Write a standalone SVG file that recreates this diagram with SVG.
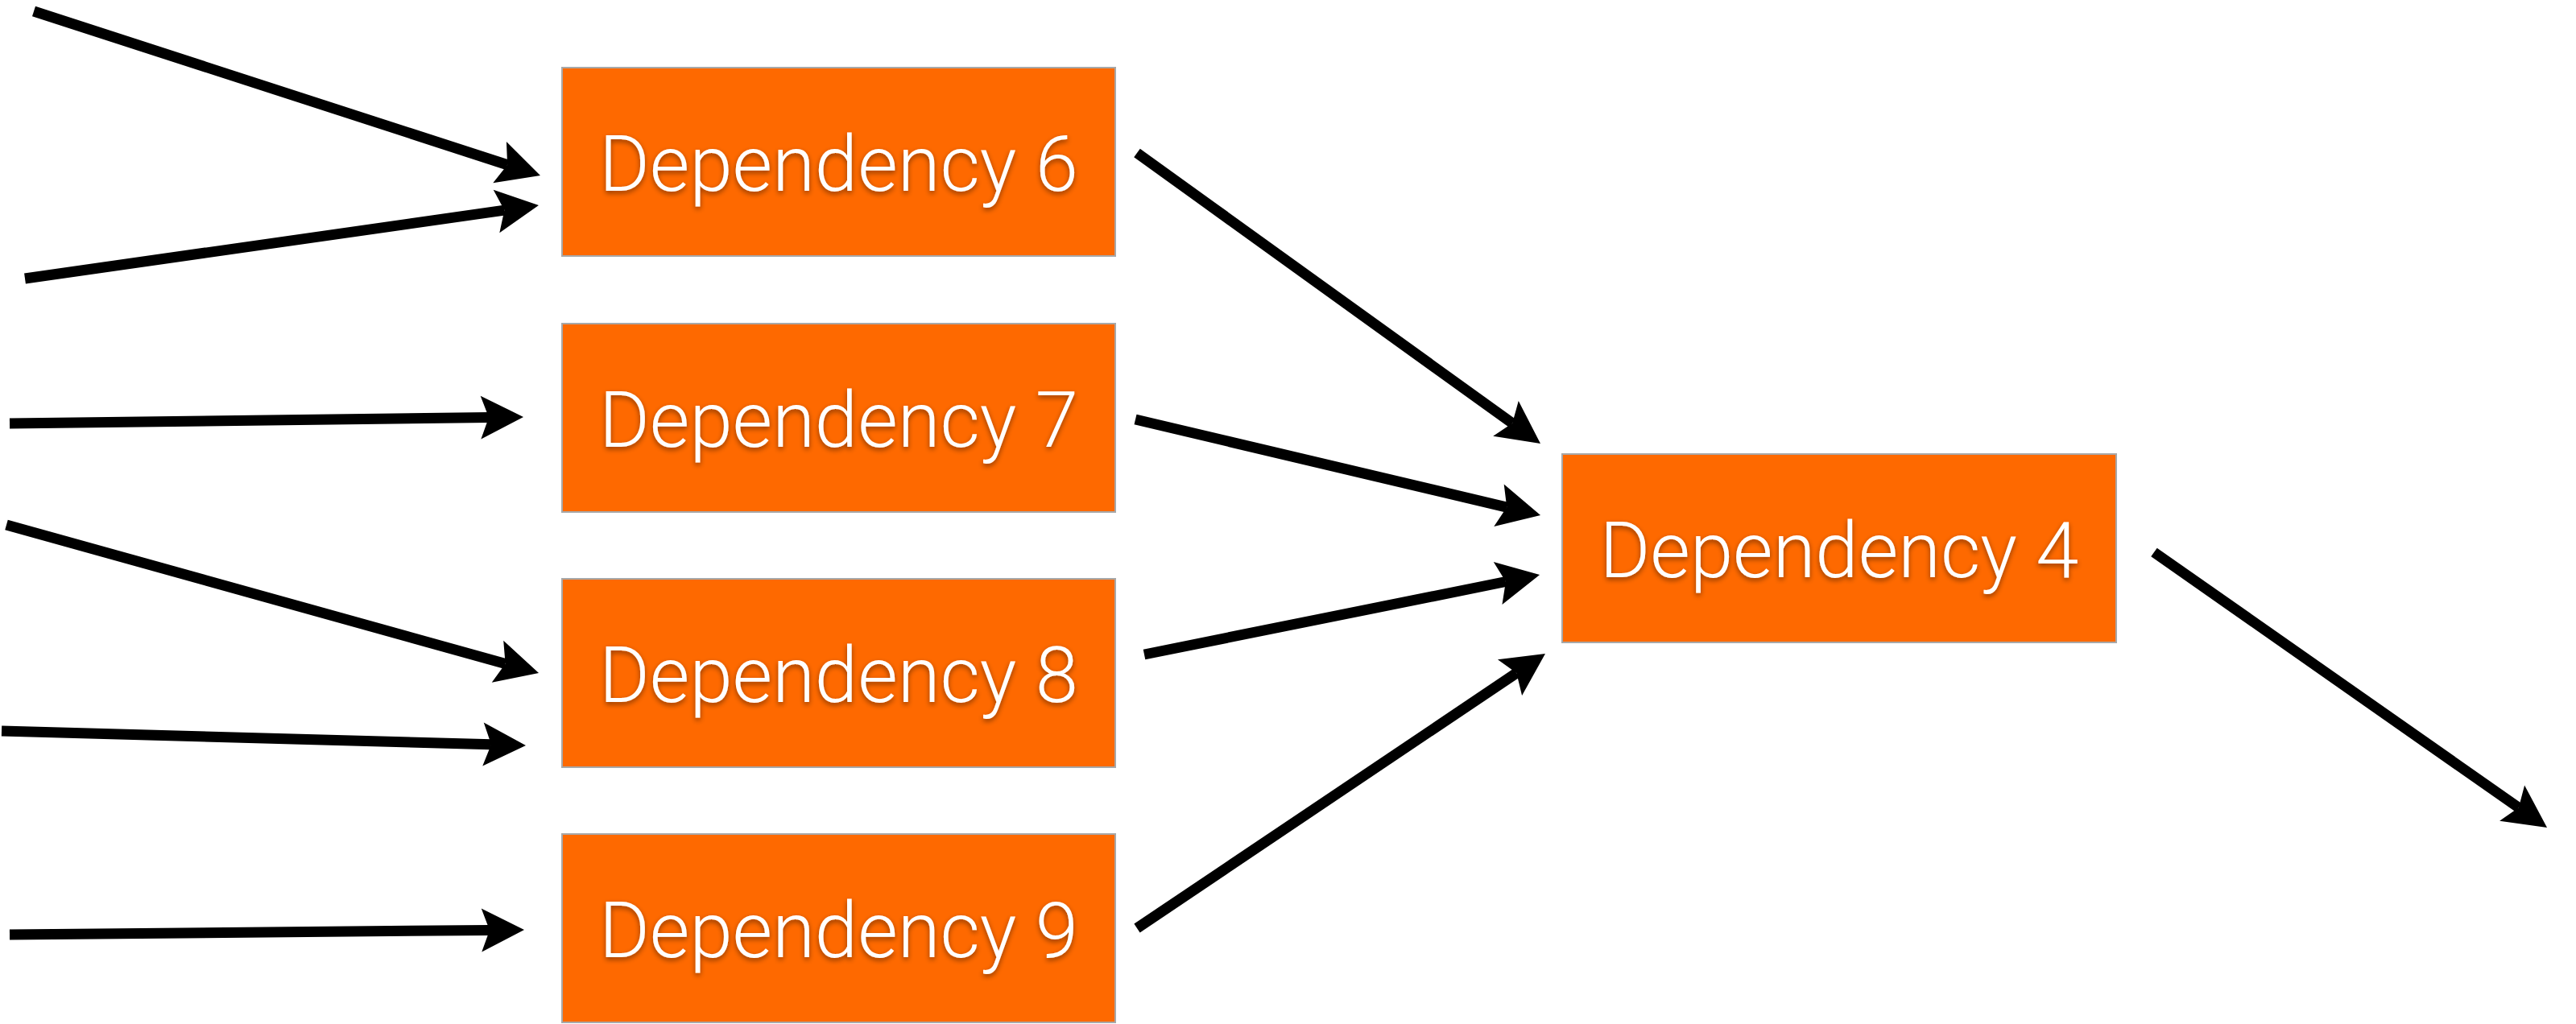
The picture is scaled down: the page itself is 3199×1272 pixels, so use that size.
<svg xmlns="http://www.w3.org/2000/svg" width="3199" height="1272" viewBox="0 0 3199 1272">
  <style>
    .box { fill: #fe6900; stroke: #a8a8a8; stroke-width: 2; }
    .label { fill: #ffffff; font-family: Roboto, "Open Sans", Inter, "Liberation Sans", sans-serif; font-weight: 300; font-size: 97px; text-anchor: middle; filter: url(#shadow); }
    .edge { fill: none; stroke: #000000; stroke-width: 13; }
  </style>
  <defs>
    <filter id="shadow" x="-10%" y="-30%" width="120%" height="160%">
      <feDropShadow dx="0" dy="3" stdDeviation="3" flood-color="#000000" flood-opacity="0.45"/>
    </filter>
    <marker id="head" markerUnits="userSpaceOnUse" viewBox="0 -30 56 60" refX="10" refY="0" markerWidth="56" markerHeight="60" orient="auto" overflow="visible">
      <path d="M53,0 L0,-27 L10,0 L0,27 Z" fill="#000000"/>
    </marker>
  </defs>

  <!-- connectors -->
  <g id="connectors" class="edge">
    <line x1="42" y1="14" x2="630.1" y2="204.7" marker-end="url(#head)"/>
    <line x1="31" y1="346" x2="626.4" y2="261.1" marker-end="url(#head)"/>
    <line x1="12" y1="526" x2="607" y2="518.5" marker-end="url(#head)"/>
    <line x1="8" y1="652" x2="627.6" y2="824.5" marker-end="url(#head)"/>
    <line x1="2" y1="908" x2="610" y2="924.8" marker-end="url(#head)"/>
    <line x1="12" y1="1161" x2="608" y2="1155.4" marker-end="url(#head)"/>
    <line x1="1412" y1="190" x2="1878.1" y2="525.8" marker-end="url(#head)"/>
    <line x1="1410" y1="521" x2="1871.2" y2="630.1" marker-end="url(#head)"/>
    <line x1="1421" y1="813" x2="1869.9" y2="722.5" marker-end="url(#head)"/>
    <line x1="1412" y1="1153" x2="1883.3" y2="836" marker-end="url(#head)"/>
    <line x1="2675" y1="686" x2="3127.8" y2="1003.3" marker-end="url(#head)"/>
  </g>

  <!-- nodes -->
  <g id="dep6">
    <rect class="box" x="698" y="84" width="687" height="234"/>
    <text class="label" x="1041.5" y="237" textLength="595" lengthAdjust="spacingAndGlyphs">Dependency 6</text>
  </g>
  <g id="dep7">
    <rect class="box" x="698" y="402" width="687" height="234"/>
    <text class="label" x="1041.5" y="555" textLength="595" lengthAdjust="spacingAndGlyphs">Dependency 7</text>
  </g>
  <g id="dep8">
    <rect class="box" x="698" y="719" width="687" height="234"/>
    <text class="label" x="1041.5" y="872" textLength="595" lengthAdjust="spacingAndGlyphs">Dependency 8</text>
  </g>
  <g id="dep9">
    <rect class="box" x="698" y="1036" width="687" height="234"/>
    <text class="label" x="1041.5" y="1189" textLength="595" lengthAdjust="spacingAndGlyphs">Dependency 9</text>
  </g>
  <g id="dep4">
    <rect class="box" x="1940" y="564" width="688" height="234"/>
    <text class="label" x="2284" y="717" textLength="595" lengthAdjust="spacingAndGlyphs">Dependency 4</text>
  </g>
</svg>
